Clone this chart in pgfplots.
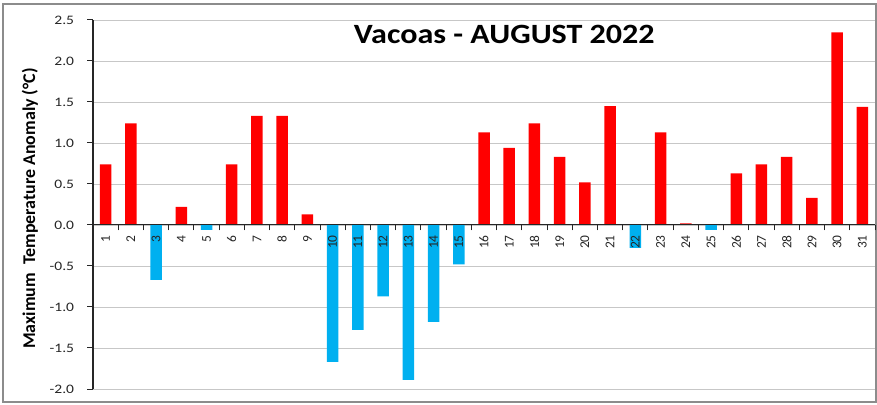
\documentclass[border=0pt]{standalone}
\usepackage{pgfplots}
\pgfplotsset{compat=1.18}
\usepackage{fontspec}
\setmainfont{Carlito}
\definecolor{barred}{RGB}{255,0,0}
\definecolor{barblue}{RGB}{0,176,240}
\pgfplotsset{
  layers/mylayers/.define layer set={axis background,axis grid,main,axis ticks,axis lines,axis tick labels,axis descriptions,axis foreground}{/pgfplots/layers/standard},
}
\begin{document}
\begin{tikzpicture}
\begin{axis}[
  set layers=mylayers,
  scale only axis, width=782bp, height=369bp,
  xmin=0.5, xmax=31.5, ymin=-2, ymax=2.5,
  axis x line=middle, axis y line=left,
  x axis line style={-, black!85, line width=1bp},
  y axis line style={-, black!85, line width=1.3bp},
  /pgf/number format/assume math mode=true,
  ytick={-2,-1.5,-1,-0.5,0,0.5,1,1.5,2,2.5},
  yticklabels={-2.0,-1.5,-1.0,-0.5,0.0,0.5,1.0,1.5,2.0,2.5},
  ytick align=outside, ytick style={black!85, line width=1bp},
  major tick length=5.5bp,
  xtick={1.5,2.5,...,31.5},
  xticklabels={},
  xtick align=outside,
  x tick style={black!85, line width=1bp},
  extra x ticks={1,...,31},
  extra x tick labels={1,2,3,4,5,6,7,8,9,10,11,12,13,14,15,16,17,18,19,20,21,22,23,24,25,26,27,28,29,30,31},
  extra x tick style={major tick length=0pt, grid=none,
    tick label style={rotate=90, anchor=east, font=\fontsize{13.5}{13.5}\selectfont, text=black!85, inner sep=0bp, xshift=-10bp}},
  yticklabel style={font=\fontsize{13}{13}\selectfont, xscale=1.2, text=black!85, inner sep=0bp, xshift=-11bp},
  ymajorgrids, grid style={black!22, line width=0.8bp},
  clip=false,
]
\addplot[ybar, bar width=11.5bp, bar shift=0pt, fill=barred, draw=none] coordinates {
  (1,0.74)(2,1.24)(4,0.22)(6,0.74)(7,1.33)(8,1.33)(9,0.13)
  (16,1.13)(17,0.94)(18,1.24)(19,0.83)(20,0.52)(21,1.45)(23,1.13)(24,0.02)
  (26,0.63)(27,0.74)(28,0.83)(29,0.33)(30,2.35)(31,1.44)};
\addplot[ybar, bar width=11.5bp, bar shift=0pt, fill=barblue, draw=none] coordinates {
  (3,-0.67)(5,-0.06)(10,-1.67)(11,-1.28)(12,-0.87)(13,-1.89)(14,-1.18)(15,-0.48)
  (22,-0.28)(25,-0.06)};
\node[font=\bfseries\fontsize{28}{28}\selectfont, xscale=1.15] at (rel axis cs:0.526,0.962) {Vacoas - AUGUST 2022};
\node[rotate=90, xshift=-4bp, yshift=63bp, font=\bfseries\fontsize{18}{18}\selectfont] at (rel axis cs:0,0.5) {Maximum\ \ Temperature Anomaly (°C)};
\end{axis}
\draw[black!45, line width=1.3bp] (-90bp,-13bp) rectangle (783bp,385bp);
\pgfresetboundingbox
\useasboundingbox (-93bp,-16bp) rectangle (784bp,389bp);
\end{tikzpicture}
\end{document}
